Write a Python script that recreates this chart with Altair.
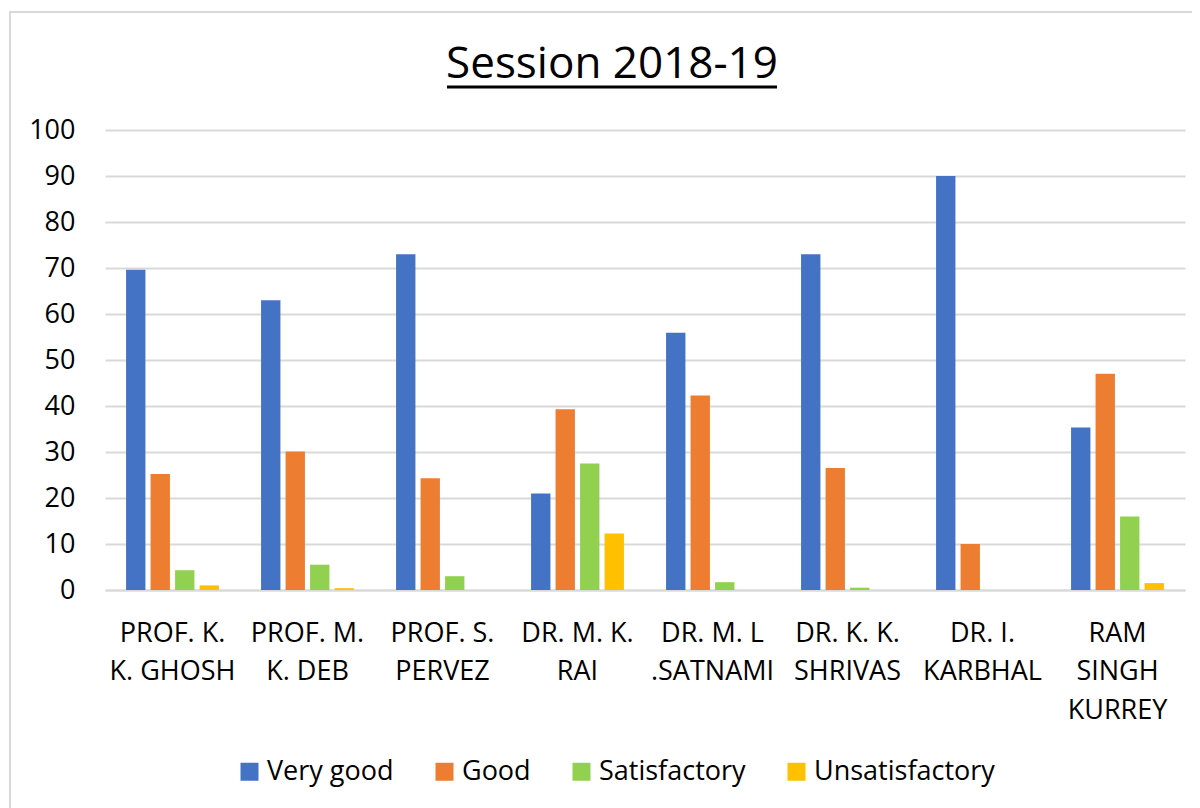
import altair as alt
import pandas as pd

teachers = [
    "PROF. K.|K. GHOSH",
    "PROF. M.|K. DEB",
    "PROF. S.|PERVEZ",
    "DR. M. K.|RAI",
    "DR. M. L|.SATNAMI",
    "DR. K. K.|SHRIVAS",
    "DR. I.|KARBHAL",
    "RAM|SINGH|KURREY",
]
ratings = ["Very good", "Good", "Satisfactory", "Unsatisfactory"]
very_good = [69.6, 63.0, 73.0, 21.0, 55.9, 73.0, 90.0, 35.3]
good = [25.2, 30.1, 24.3, 39.3, 42.3, 26.5, 10.0, 47.0]
satisfactory = [4.3, 5.5, 3.0, 27.5, 1.7, 0.5, 0.0, 16.0]
unsatisfactory = [1.0, 0.4, 0.0, 12.3, 0.0, 0.0, 0.0, 1.5]
colors = ["#4472C4", "#ED7D31", "#92D050", "#FFC000"]
y_ticks = list(range(0, 101, 10))
title_text = "Session 2018-19"

FONT = "Open Sans"

rows = []
for i, t in enumerate(teachers):
    for r, vals in zip(ratings, [very_good, good, satisfactory, unsatisfactory]):
        rows.append({"teacher": t, "rating": r, "value": vals[i]})
df = pd.DataFrame(rows)

bars = alt.Chart(df).mark_bar().encode(
    x=alt.X(
        "teacher:N",
        sort=teachers,
        scale=alt.Scale(paddingInner=0.274, paddingOuter=0.137),
        axis=alt.Axis(
            title=None,
            labelAngle=0,
            labelExpr="split(datum.label, '|')",
            labelFontSize=27,
            labelFont=FONT,
            labelColor="#000000",
            labelLineHeight=38.7,
            labelPadding=30,
            labelBaseline="top",
            labelLimit=0,
            ticks=False,
            domainColor="#d9d9d9",
            domainWidth=2,
            grid=False,
        ),
    ),
    xOffset=alt.XOffset(
        "rating:N", sort=ratings, scale=alt.Scale(paddingInner=0.21, paddingOuter=0.105)
    ),
    y=alt.Y(
        "value:Q",
        scale=alt.Scale(domain=[0, 100]),
        axis=alt.Axis(
            values=y_ticks,
            title=None,
            ticks=False,
            domain=False,
            gridColor="#d9d9d9",
            gridWidth=2,
            labelFontSize=27,
            labelFont=FONT,
            labelColor="#000000",
            labelPadding=30,
        ),
    ),
    color=alt.Color(
        "rating:N",
        sort=ratings,
        scale=alt.Scale(domain=ratings, range=colors),
        legend=alt.Legend(
            title=None,
            orient="none",
            legendX=131,
            legendY=628,
            direction="horizontal",
            columns=4,
            symbolType="square",
            symbolSize=324,
            symbolStrokeWidth=0,
            symbolOpacity=1,
            labelFontSize=27,
            labelFont=FONT,
            labelColor="#000000",
            labelLimit=0,
            labelOffset=4,
            columnPadding=37,
            padding=0,
        ),
    ),
)

frame = alt.Chart(alt.Data(values=[{"a": 1}])).mark_rect(
    fillOpacity=0, stroke="#d9d9d9", strokeWidth=2
).encode(
    x=alt.value(-95), x2=alt.value(1100), y=alt.value(-118), y2=alt.value(700)
)

title = alt.Chart(alt.Data(values=[{"t": title_text}])).mark_text(
    font=FONT, fontSize=44, align="center", baseline="alphabetic", color="#000000"
).encode(x=alt.value(507), y=alt.value(-52), text="t:N")

underline = alt.Chart(alt.Data(values=[{"a": 1}])).mark_rule(
    color="#000000", strokeWidth=3
).encode(x=alt.value(342), x2=alt.value(672), y=alt.value(-43))

chart = alt.layer(frame, bars, title, underline).properties(
    width=1080,
    height=460,
    padding={"left": 97, "top": 122, "right": 7, "bottom": 218},
    autosize=alt.AutoSizeParams(type="none"),
    background="white",
).configure_view(stroke=None)

chart.save("out.html", embed_options={"renderer": "svg", "actions": False})
